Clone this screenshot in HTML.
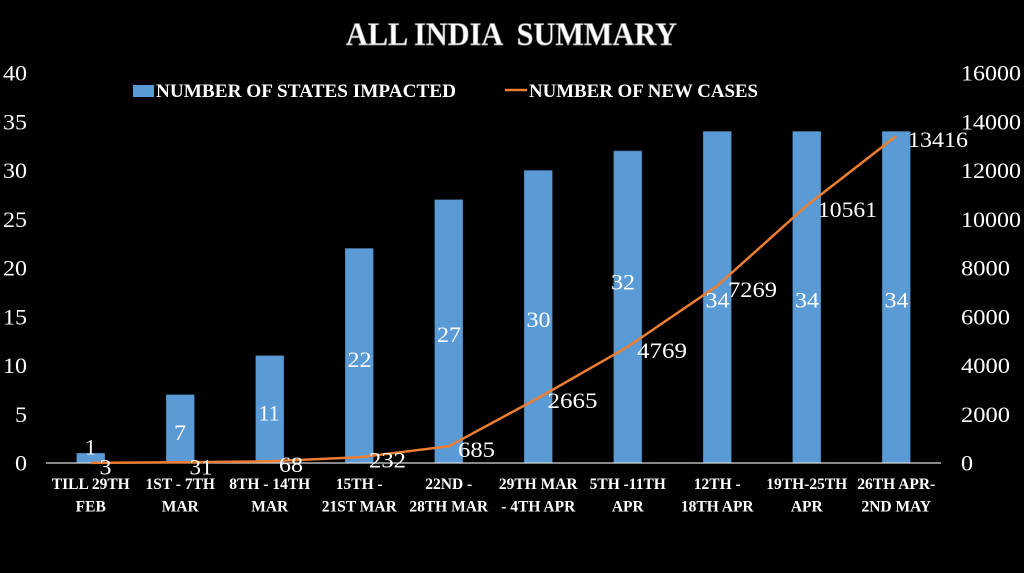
<!DOCTYPE html>
<html>
<head>
<meta charset="utf-8">
<style>
html,body{margin:0;padding:0;background:#000;}
svg{display:block;}
text{font-family:"Liberation Serif",serif;fill:#fff;}
.num{font-size:22px;}
.cat{font-size:15.5px;font-weight:bold;text-anchor:middle;}
</style>
</head>
<body>
<svg width="1024" height="573" viewBox="0 0 1024 573" xmlns="http://www.w3.org/2000/svg">
<rect width="1024" height="573" fill="#000"/>

<!-- Title -->
<text x="346" y="45" font-size="33" font-weight="bold" textLength="331" lengthAdjust="spacingAndGlyphs" xml:space="preserve" style="white-space:pre;fill:#fff;stroke:#8a8a8a;stroke-width:0.7">ALL INDIA  SUMMARY</text>

<!-- Legend -->
<rect x="133" y="85" width="21" height="12" fill="#5B9BD5"/>
<text x="156" y="97" font-size="19" font-weight="bold" textLength="300" lengthAdjust="spacingAndGlyphs">NUMBER OF STATES IMPACTED</text>
<line x1="505" y1="90" x2="527" y2="90" stroke="#ED7D31" stroke-width="2.5"/>
<text x="529" y="97" font-size="19" font-weight="bold" textLength="229" lengthAdjust="spacingAndGlyphs">NUMBER OF NEW CASES</text>

<!-- Left axis labels -->
<g class="num" text-anchor="end">
<text x="27" y="470.5" textLength="12" lengthAdjust="spacingAndGlyphs">0</text>
<text x="27" y="421.75" textLength="12" lengthAdjust="spacingAndGlyphs">5</text>
<text x="27" y="373" textLength="24" lengthAdjust="spacingAndGlyphs">10</text>
<text x="27" y="324.25" textLength="24" lengthAdjust="spacingAndGlyphs">15</text>
<text x="27" y="275.5" textLength="24" lengthAdjust="spacingAndGlyphs">20</text>
<text x="27" y="226.75" textLength="24" lengthAdjust="spacingAndGlyphs">25</text>
<text x="27" y="178" textLength="24" lengthAdjust="spacingAndGlyphs">30</text>
<text x="27" y="129.25" textLength="24" lengthAdjust="spacingAndGlyphs">35</text>
<text x="27" y="80.5" textLength="24" lengthAdjust="spacingAndGlyphs">40</text>
</g>

<!-- Right axis labels -->
<g class="num">
<text x="961" y="470.5" textLength="12" lengthAdjust="spacingAndGlyphs">0</text>
<text x="961" y="421.75" textLength="49" lengthAdjust="spacingAndGlyphs">2000</text>
<text x="961" y="373" textLength="49" lengthAdjust="spacingAndGlyphs">4000</text>
<text x="961" y="324.25" textLength="49" lengthAdjust="spacingAndGlyphs">6000</text>
<text x="961" y="275.5" textLength="49" lengthAdjust="spacingAndGlyphs">8000</text>
<text x="961" y="226.75" textLength="60" lengthAdjust="spacingAndGlyphs">10000</text>
<text x="961" y="178" textLength="60" lengthAdjust="spacingAndGlyphs">12000</text>
<text x="961" y="129.25" textLength="60" lengthAdjust="spacingAndGlyphs">14000</text>
<text x="961" y="80.5" textLength="60" lengthAdjust="spacingAndGlyphs">16000</text>
</g>

<!-- Bars -->
<g fill="#5B9BD5" stroke="#41719C" stroke-width="0.6">
<rect x="76.75" y="453.25" width="28" height="9.75"/>
<rect x="166.25" y="394.75" width="28" height="68.25"/>
<rect x="255.75" y="355.75" width="28" height="107.25"/>
<rect x="345.25" y="248.5" width="28" height="214.5"/>
<rect x="434.75" y="199.75" width="28" height="263.25"/>
<rect x="524.25" y="170.5" width="28" height="292.5"/>
<rect x="613.75" y="151" width="28" height="312"/>
<rect x="703.25" y="131.5" width="28" height="331.5"/>
<rect x="792.75" y="131.5" width="28" height="331.5"/>
<rect x="882.25" y="131.5" width="28" height="331.5"/>
</g>

<!-- Axis line -->
<line x1="46" y1="463" x2="941" y2="463" stroke="#d9d9d9" stroke-width="1.2"/>

<!-- Line series -->
<polyline fill="none" stroke="#ED7D31" stroke-width="2.5" stroke-linejoin="round"
points="90.75,462.9 180.25,462.2 269.75,461.3 359.25,457.3 448.75,446.3 538.25,398.0 627.75,346.8 717.25,285.8 806.75,205.6 896.25,136.0"/>

<!-- Bar data labels -->
<g class="num" text-anchor="middle">
<text x="90.5" y="454.5" textLength="11" lengthAdjust="spacingAndGlyphs">1</text>
<text x="180" y="440" textLength="12" lengthAdjust="spacingAndGlyphs">7</text>
<text x="269" y="420.5" textLength="21" lengthAdjust="spacingAndGlyphs">11</text>
<text x="359.5" y="367" textLength="24" lengthAdjust="spacingAndGlyphs">22</text>
<text x="449" y="342" textLength="24" lengthAdjust="spacingAndGlyphs">27</text>
<text x="538.5" y="327" textLength="24" lengthAdjust="spacingAndGlyphs">30</text>
<text x="623" y="289.5" textLength="24" lengthAdjust="spacingAndGlyphs">32</text>
<text x="717.5" y="307.5" textLength="24" lengthAdjust="spacingAndGlyphs">34</text>
<text x="807" y="307.5" textLength="24" lengthAdjust="spacingAndGlyphs">34</text>
<text x="896.5" y="307.5" textLength="24" lengthAdjust="spacingAndGlyphs">34</text>
</g>

<!-- Line data labels -->
<g class="num" text-anchor="middle">
<text x="105.5" y="474.5" textLength="12" lengthAdjust="spacingAndGlyphs">3</text>
<text x="201" y="474.5" textLength="23" lengthAdjust="spacingAndGlyphs">31</text>
<text x="291" y="472" textLength="24" lengthAdjust="spacingAndGlyphs">68</text>
<text x="387.5" y="467.5" textLength="37" lengthAdjust="spacingAndGlyphs">232</text>
<text x="476.5" y="457" textLength="37" lengthAdjust="spacingAndGlyphs">685</text>
<text x="572.5" y="408" textLength="50" lengthAdjust="spacingAndGlyphs">2665</text>
<text x="662" y="358" textLength="50" lengthAdjust="spacingAndGlyphs">4769</text>
<text x="752.5" y="297" textLength="49" lengthAdjust="spacingAndGlyphs">7269</text>
<text x="847.5" y="217" textLength="59" lengthAdjust="spacingAndGlyphs">10561</text>
<text x="938" y="147" textLength="60" lengthAdjust="spacingAndGlyphs">13416</text>
</g>

<!-- Category labels -->
<g class="cat">
<text x="90.75" y="489">TILL 29TH</text><text x="90.75" y="511.5">FEB</text>
<text x="180.25" y="489">1ST - 7TH</text><text x="180.25" y="511.5">MAR</text>
<text x="269.75" y="489">8TH - 14TH</text><text x="269.75" y="511.5">MAR</text>
<text x="359.25" y="489">15TH -</text><text x="359.25" y="511.5">21ST MAR</text>
<text x="448.75" y="489">22ND -</text><text x="448.75" y="511.5">28TH MAR</text>
<text x="538.25" y="489">29TH MAR</text><text x="538.25" y="511.5">- 4TH APR</text>
<text x="627.75" y="489">5TH -11TH</text><text x="627.75" y="511.5">APR</text>
<text x="717.25" y="489">12TH -</text><text x="717.25" y="511.5">18TH APR</text>
<text x="806.75" y="489">19TH-25TH</text><text x="806.75" y="511.5">APR</text>
<text x="896.25" y="489">26TH APR-</text><text x="896.25" y="511.5">2ND MAY</text>
</g>
</svg>
</body>
</html>
